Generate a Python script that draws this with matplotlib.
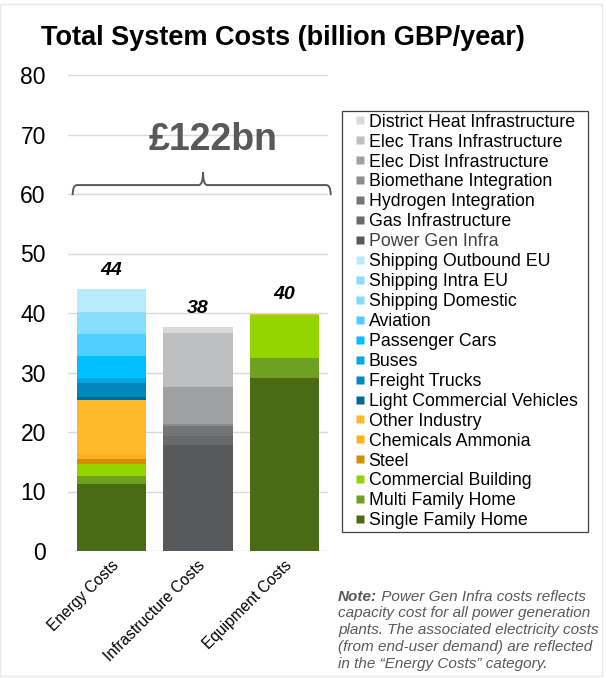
import numpy as np
import matplotlib.pyplot as plt
from matplotlib.lines import Line2D
from matplotlib.patches import PathPatch, Rectangle
from matplotlib.path import Path
from matplotlib.transforms import ScaledTranslation

plt.rcParams['font.family'] = ['Liberation Sans', 'DejaVu Sans']

# Categories on the x axis
categories = ['Energy Costs', 'Infrastructure Costs', 'Equipment Costs']

# Stack order, bottom to top
series_names = ['Single Family Home', 'Multi Family Home', 'Commercial Building', 'Steel',
                'Chemicals Ammonia', 'Other Industry', 'Light Commercial Vehicles',
                'Freight Trucks', 'Buses', 'Passenger Cars', 'Aviation', 'Shipping Domestic',
                'Shipping Intra EU', 'Shipping Outbound EU', 'Power Gen Infra',
                'Gas Infrastructure', 'Hydrogen Integration', 'Biomethane Integration',
                'Elec Dist Infrastructure', 'Elec Trans Infrastructure',
                'District Heat Infrastructure']
energy = [11.3, 1.3, 2.1, 0.8, 0.8, 9.0, 0.6, 2.4, 0.8, 3.7, 3.6, 0.2, 3.5, 3.9,
          0, 0, 0, 0, 0, 0, 0]
infra = [0, 0, 0, 0, 0, 0, 0, 0, 0, 0, 0, 0, 0, 0,
         17.8, 1.5, 1.7, 0.3, 6.2, 9.1, 1.0]
equip = [29.0, 3.5, 7.1, 0, 0, 0.3, 0, 0, 0, 0, 0, 0, 0, 0,
         0, 0, 0, 0, 0, 0, 0]
series_colors = ['#4A6A16', '#70A020', '#94D500', '#D18F00', '#FFAE1F', '#FFBA2B',
                 '#006A90', '#0088BC', '#00A6E2', '#00BFFF', '#4DCFFF', '#80DBFF',
                 '#88DEFF', '#B9EAFF', '#58595B', '#68696B', '#737476', '#8C8D8F',
                 '#A0A1A3', '#BEBFC1', '#D9D9D9']
total_label = '£122bn'
note_head = 'Note:'
note_first = ' Power Gen Infra costs reflects'
note_rest = ('capacity cost for all power generation\n'
             'plants. The associated electricity costs\n'
             '(from end-user demand) are reflected\n'
             'in the \u201cEnergy Costs\u201d category.')

W, H = 606, 678
fig = plt.figure(figsize=(W / 100, H / 100), dpi=100)
ax = fig.add_axes([68 / W, 1 - 551 / H, 260 / W, 476 / H])

x = np.arange(len(categories))
bottoms = np.zeros(len(categories))
for name, e, i, q, c in zip(series_names, energy, infra, equip, series_colors):
    vals = np.array([e, i, q])
    ax.bar(x, vals, bottom=bottoms, width=0.8, color=c, linewidth=0)
    bottoms += vals

# totals above bars
for xi, tot in zip(x, bottoms):
    ax.annotate(f'{tot:.0f}', (xi, tot), xytext=(0, 13.5), textcoords='offset points',
                ha='center', va='center', fontsize=14, fontweight='bold', style='italic')

ax.set_xlim(-0.5, 2.5)
ax.set_ylim(0, 80)
ax.set_yticks(range(0, 81, 10))
ax.grid(axis='y', color='#D9D9D9', linewidth=1)
ax.set_axisbelow(True)
for s in ax.spines.values():
    s.set_visible(False)
ax.tick_params(axis='both', length=0)
ax.tick_params(axis='y', labelsize=16.5, pad=16)
ax.set_xticks(x)
ax.set_xticklabels(categories, rotation=45, ha='right', va='center',
                   rotation_mode='anchor', fontsize=11.2)
ax.tick_params(axis='x', pad=9)
shift = ScaledTranslation(5 / 100, 0, fig.dpi_scale_trans)
for lab in ax.get_xticklabels():
    lab.set_transform(lab.get_transform() + shift)

# curly brace over all bars
x0, x1, xc = -0.446, 2.531, 1.058
yb, ye, yt = 61.5, 59.8, 63.7
d = 0.05
verts = [(x0, ye), (x0, yb), (x0 + d, yb), (xc - d, yb), (xc, yb), (xc, yt),
         (xc, yb), (xc + d, yb), (x1 - d, yb), (x1, yb), (x1, ye)]
codes = [Path.MOVETO, Path.CURVE3, Path.CURVE3, Path.LINETO, Path.CURVE3, Path.CURVE3,
         Path.CURVE3, Path.CURVE3, Path.LINETO, Path.CURVE3, Path.CURVE3]
ax.add_patch(PathPatch(Path(verts, codes), fill=False, edgecolor='#595959',
                       linewidth=1.4, clip_on=False))
ax.text(1.18, 69.1, total_label, ha='center', va='center', fontsize=27,
        fontweight='bold', color='#595959')

fig.text(283 / W, 1 - 38 / H, 'Total System Costs (billion GBP/year)', ha='center',
         va='center', fontsize=19.5, fontweight='bold')

# legend, top entry = last stacked series
handles = [Line2D([], [], marker='s', linestyle='none', markersize=6,
                  markerfacecolor=c, markeredgecolor='none') for c in series_colors]
leg = fig.legend(handles[::-1], series_names[::-1], loc='upper left',
                 bbox_to_anchor=(342 / W, 1 - 111 / H, (588 - 342) / W, 0),
                 mode='expand', fontsize=12.8, frameon=True, fancybox=False,
                 edgecolor='#404040', framealpha=1, borderpad=0.15,
                 labelspacing=0.165, handlelength=1.7, handletextpad=-0.35,
                 borderaxespad=0)
leg.get_frame().set_linewidth(0.9)
for t in leg.get_texts():
    if t.get_text() == 'Power Gen Infra':
        t.set_color('#404040')

# note
nh = fig.text(338 / W, 1 - 597 / H, note_head, ha='left', va='center', fontsize=11,
              fontweight='bold', style='italic', color='#595959')
ax.annotate(note_first, xy=(1, 0), xycoords=nh, ha='left', va='bottom', fontsize=11,
            style='italic', color='#595959', annotation_clip=False)
fig.text(338 / W, 1 - 606 / H, note_rest, ha='left', va='top', fontsize=11,
         style='italic', color='#595959', linespacing=1.28)

# faint picture border
fig.add_artist(Rectangle((0, 2 / H), 602 / W, 1 - 6 / H, transform=fig.transFigure,
                         fill=False, edgecolor='#E8E8E8', linewidth=1))

fig.savefig('out.png', dpi=100)
